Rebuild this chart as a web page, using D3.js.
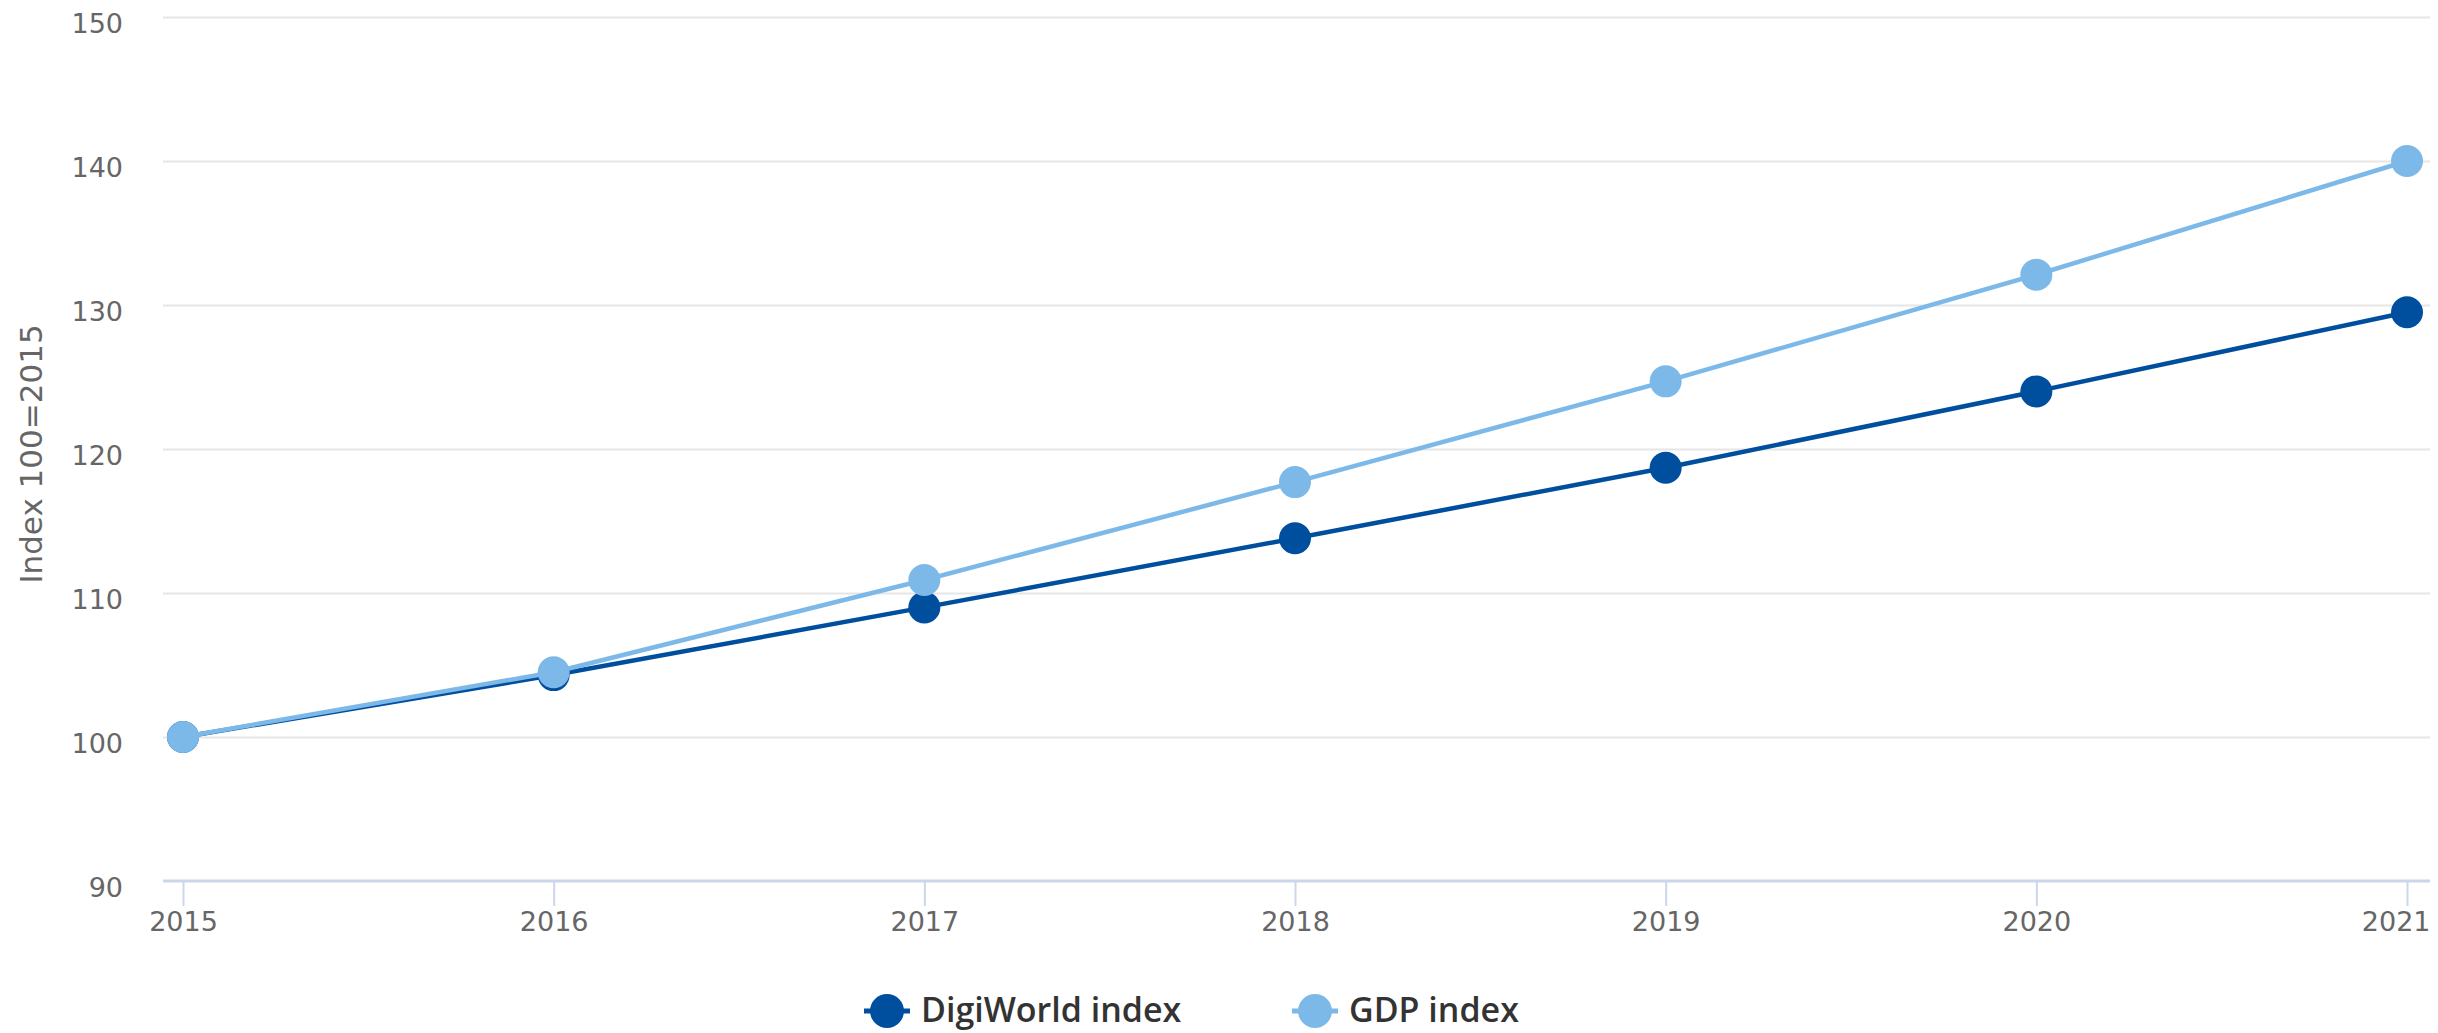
<!DOCTYPE html>
<html>
<head>
<meta charset="utf-8">
<script src="https://cdn.jsdelivr.net/npm/d3@7"></script>
<style>
  body { margin: 0; background: #ffffff; }
  svg { display: block; }
</style>
</head>
<body>
<div id="chart"></div>
<script>
//Chart data
var years = [2015, 2016, 2017, 2018, 2019, 2020, 2021];
var digiworldIndex = [100, 104.3, 109.0, 113.8, 118.7, 124.0, 129.5];
var gdpIndex = [100, 104.5, 110.9, 117.7, 124.7, 132.1, 140.0];
var yTicks = [90, 100, 110, 120, 130, 140, 150];
var seriesNames = ["DigiWorld index", "GDP index"];
var seriesColors = ["#004e9e", "#7db9e8"];

var series = [
    { name: seriesNames[0], color: seriesColors[0], values: digiworldIndex },
    { name: seriesNames[1], color: seriesColors[1], values: gdpIndex }
];

//Create chart space
var svgWidth = 2438;
var svgHeight = 1033;

var plot = { left: 163, right: 2430, top: 17, bottom: 881 };
var firstX = 183;
var lastX = 2407;

var svg = d3.select("#chart")
    .append("svg")
    .attr("width", svgWidth)
    .attr("height", svgHeight);

//Scale functions
var xScale = d3.scalePoint()
    .domain(years)
    .range([firstX, lastX]);

var yScale = d3.scaleLinear()
    .domain([90, 150])
    .range([plot.bottom, plot.top]);

//Gridlines + y labels
var leftAxis = d3.axisLeft(yScale)
    .tickValues(yTicks)
    .tickSizeInner(-(plot.right - plot.left))
    .tickSizeOuter(0)
    .tickPadding(40);

var yAxisGroup = svg.append("g")
    .attr("transform", `translate(${plot.left}, 0)`)
    .call(leftAxis);

yAxisGroup.select(".domain").remove();
yAxisGroup.selectAll(".tick line")
    .attr("stroke", "#e6e6e6")
    .attr("stroke-width", 2);
yAxisGroup.selectAll(".tick text")
    .attr("fill", "#666666")
    .attr("font-family", "DejaVu Sans, sans-serif")
    .attr("font-size", 27)
    .attr("dy", "0.56em");
// the 90 gridline is hidden under the x axis line
yAxisGroup.selectAll(".tick").filter(d => d === 90).select("line").remove();

//X axis
var bottomAxis = d3.axisBottom(xScale)
    .tickSizeInner(25)
    .tickSizeOuter(0)
    .tickPadding(6);

var xAxisGroup = svg.append("g")
    .attr("transform", `translate(0, ${plot.bottom})`)
    .call(bottomAxis);

xAxisGroup.select(".domain").remove();
xAxisGroup.insert("line", ":first-child")
    .attr("x1", plot.left)
    .attr("x2", plot.right)
    .attr("stroke", "#ccd6eb")
    .attr("stroke-width", 3);
xAxisGroup.selectAll(".tick line")
    .attr("stroke", "#ccd6eb")
    .attr("stroke-width", 2);
xAxisGroup.selectAll(".tick text")
    .attr("fill", "#666666")
    .attr("font-family", "DejaVu Sans, sans-serif")
    .attr("font-size", 27);
// keep the last label inside the chart
xAxisGroup.selectAll(".tick text")
    .filter(d => d === years[years.length - 1])
    .attr("text-anchor", "end")
    .attr("x", plot.right - lastX);

//Y axis title
svg.append("text")
    .attr("transform", `translate(31, ${(plot.top + plot.bottom) / 2 + 5}) rotate(-90)`)
    .attr("text-anchor", "middle")
    .attr("dominant-baseline", "central")
    .attr("fill", "#666666")
    .attr("font-family", "DejaVu Sans, sans-serif")
    .attr("font-size", 31)
    .text("Index 100=2015");

//Lines
var line = d3.line()
    .x((d, i) => xScale(years[i]))
    .y(d => yScale(d));

var seriesGroup = svg.selectAll(".series")
    .data(series).enter()
    .append("g")
    .attr("class", "series");

seriesGroup.append("path")
    .attr("d", d => line(d.values))
    .attr("fill", "none")
    .attr("stroke", d => d.color)
    .attr("stroke-width", 4.5)
    .attr("stroke-linejoin", "round");

seriesGroup.selectAll("circle")
    .data(d => d.values.map(v => ({ v: v, color: d.color })))
    .enter()
    .append("circle")
    .attr("cx", (d, i) => xScale(years[i]))
    .attr("cy", d => yScale(d.v))
    .attr("r", 16)
    .attr("fill", d => d.color);

//Legend
var legendX = [887, 1315];
var legendY = 1011;

var legendItem = svg.selectAll(".legend")
    .data(series).enter()
    .append("g")
    .attr("class", "legend")
    .attr("transform", (d, i) => `translate(${legendX[i]}, ${legendY})`);

legendItem.append("line")
    .attr("x1", -23)
    .attr("x2", 23)
    .attr("stroke", d => d.color)
    .attr("stroke-width", 5);

legendItem.append("circle")
    .attr("r", 17)
    .attr("fill", d => d.color);

legendItem.append("text")
    .attr("x", 34)
    .attr("y", 11)
    .attr("fill", "#333333")
    .attr("font-family", "Open Sans, sans-serif")
    .attr("font-weight", 600)
    .attr("font-size", 34)
    .text(d => d.name);
</script>
</body>
</html>
